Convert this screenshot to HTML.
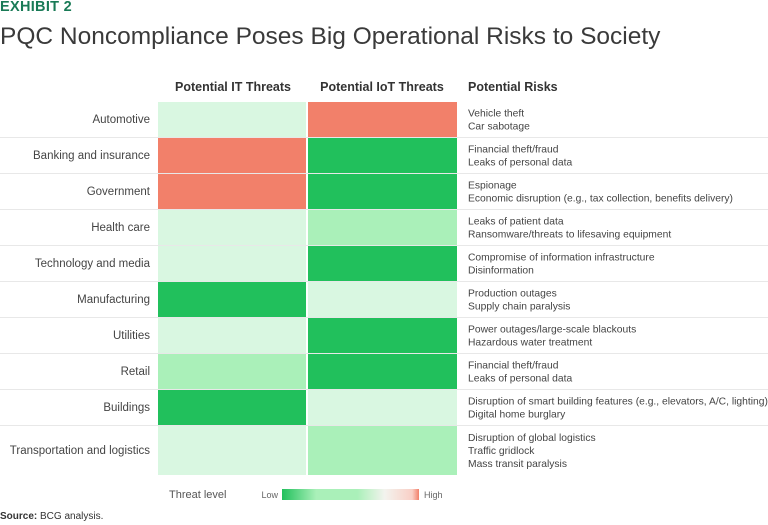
<!DOCTYPE html>
<html><head><meta charset="utf-8"><style>
body{margin:0;width:768px;height:525px;background:#fff;font-family:"Liberation Sans",sans-serif;overflow:hidden;position:relative}
.t{position:absolute;white-space:nowrap}
</style></head><body>
<div class="t" style="left:0;top:-1px;font-size:14.5px;font-weight:bold;color:#197a56;letter-spacing:0.3px">EXHIBIT 2</div>
<div class="t" style="left:0;top:23px;font-size:24.5px;color:#3a3a3a;font-weight:300">PQC Noncompliance Poses Big Operational Risks to Society</div>
<svg id="c" width="768" height="525" style="position:absolute;left:0;top:0"></svg>
<div class="t" style="left:0;top:511px;font-size:10px;color:#333"><b>Source:</b> BCG analysis.</div>
<script>
const sectors=["Automotive","Banking and insurance","Government","Health care","Technology and media","Manufacturing","Utilities","Retail","Buildings","Transportation and logistics"];
const itLevel=[3,5,5,3,3,1,3,2,1,3];
const iotLevel=[5,1,1,2,1,3,1,1,3,2];
const risks=[["Vehicle theft","Car sabotage"],["Financial theft/fraud","Leaks of personal data"],["Espionage","Economic disruption (e.g., tax collection, benefits delivery)"],["Leaks of patient data","Ransomware/threats to lifesaving equipment"],["Compromise of information infrastructure","Disinformation"],["Production outages","Supply chain paralysis"],["Power outages/large-scale blackouts","Hazardous water treatment"],["Financial theft/fraud","Leaks of personal data"],["Disruption of smart building features (e.g., elevators, A/C, lighting)","Digital home burglary"],["Disruption of global logistics","Traffic gridlock","Mass transit paralysis"]];
const headers=["Potential IT Threats","Potential IoT Threats","Potential Risks"];
const colors={1:"#21c05c",2:"#aaf0b9",3:"#d9f7e1",5:"#f2806a"};
const svg=document.getElementById('c');const NS="http://www.w3.org/2000/svg";
function mk(t,a,txt){const e=document.createElementNS(NS,t);for(const k in a)e.setAttribute(k,a[k]);if(txt!=null)e.textContent=txt;svg.appendChild(e);return e;}
const top0=101,rh=36,colX=[158,307],colW=149;
function rowY(i){return top0+i*rh;}
function rowH(i){return i===sectors.length-1?50:rh;}
[158+75,307+75,468].forEach((x,i)=>{const e=mk('text',{x:x,y:91,'font-size':12.5,'font-weight':'bold',fill:'#333','text-anchor':i<2?'middle':'start'},headers[i]);

});
sectors.forEach((s,i)=>{const y=rowY(i),h=rowH(i);
[itLevel[i],iotLevel[i]].forEach((v,j)=>{const r=mk('rect',{x:colX[j]+(j?1:0),y:y+1,width:colW-(j?0:1),height:h-1,fill:colors[v]});

});
if(i<sectors.length-1){const l=mk('line',{x1:0,x2:768,y1:y+h+0.5,y2:y+h+0.5,stroke:'#e8e8e8'});

}
const lb=mk('text',{x:150,y:y+h/2+4,'font-size':11.5,fill:'#444','text-anchor':'end'},s);


const n=risks[i].length;risks[i].forEach((r,k)=>{const t=mk('text',{x:468,y:y+h/2+4+(k-(n-1)/2)*13,'font-size':10.3,fill:'#444'},r);

});});
const d=mk('defs',{});d.innerHTML='<linearGradient id="g"><stop offset="0" stop-color="#21c05c"/><stop offset="0.25" stop-color="#aaf0b9"/><stop offset="0.55" stop-color="#aaf0b9"/><stop offset="0.75" stop-color="#f3f3ee"/><stop offset="0.95" stop-color="#f9cfc6"/><stop offset="1" stop-color="#f2806a"/></linearGradient>';
const lg=mk('rect',{x:282,y:489,width:137,height:11,fill:'url(#g)'});


[[169,"Threat level",11,'#555','start'],[278,"Low",9,'#666','end'],[424,"High",9,'#666','start']].forEach(a=>{const t=mk('text',{x:a[0],y:498,'font-size':a[2],fill:a[3],'text-anchor':a[4]},a[1]);

});
</script>
</body></html>
